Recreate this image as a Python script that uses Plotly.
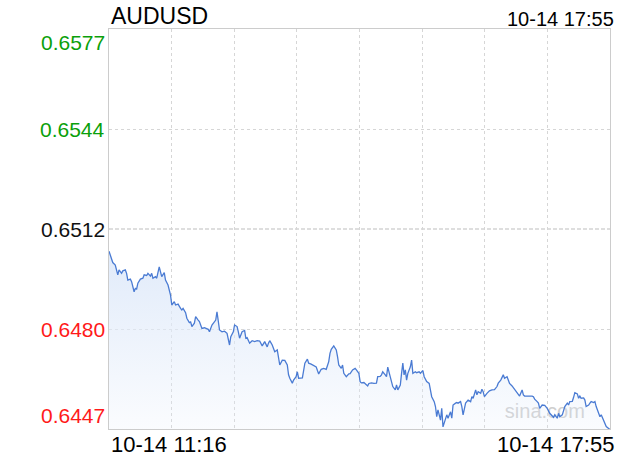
import numpy as np
import plotly.graph_objects as go

SYMBOL = "AUDUSD"
DATE_LABEL = "10-14"
START_TIME = "11:16"
END_TIME = "17:55"
PREV_CLOSE = 0.6512
Y_MIN = 0.6447
Y_MAX = 0.6577
Y_TICK_LABELS = ["0.6577", "0.6544", "0.6512", "0.6480", "0.6447"]
SESSION_MINUTES = 399  # 11:16 -> 17:55

# minutes elapsed since 11:16
minutes = [
    0, 2, 3, 5, 6, 7, 8, 10, 11, 13,
    14, 15, 17, 18, 20, 21, 22, 23, 25, 27,
    28, 30, 31, 33, 34, 35, 37, 38, 40, 41,
    42, 44, 45, 47, 48, 49, 50, 52, 53, 55,
    57, 58, 59, 61, 62, 64, 65, 66, 68, 69,
    71, 72, 74, 76, 79, 80, 82, 83, 85, 86,
    88, 90, 92, 94, 96, 97, 99, 100, 102, 103,
    104, 106, 108, 109, 110, 112, 114, 116, 118, 120,
    122, 124, 126, 127, 128, 130, 132, 134, 135, 136,
    138, 140, 142, 143, 144, 146, 147, 149, 150, 151,
    154, 155, 156, 158, 159, 161, 163, 165, 166, 167,
    169, 171, 173, 175, 176, 177, 179, 181, 182, 183,
    185, 186, 187, 189, 191, 192, 194, 196, 197, 199,
    200, 201, 203, 204, 206, 207, 209, 211, 213, 214,
    216, 217, 218, 220, 221, 222, 224, 225, 226, 228,
    229, 230, 232, 233, 234, 235, 236, 237, 238, 240,
    241, 242, 244, 245, 247, 248, 250, 251, 253, 255,
    256, 257, 259, 260, 261, 262, 264, 265, 266, 268,
    269, 270, 272, 273, 274, 276, 277, 278, 280, 281,
    282, 284, 285, 286, 288, 289, 290, 292, 293, 294,
    296, 297, 298, 299, 301, 303, 305, 307, 309, 310,
    312, 314, 315, 317, 318, 319, 321, 323, 325, 326,
    327, 329, 330, 331, 334, 337, 338, 339, 341, 342,
    343, 345, 347, 349, 351, 353, 354, 355, 357, 358,
    359, 361, 362, 363, 365, 366, 367, 369, 370, 371,
    373, 374, 375, 376, 378, 379, 380, 382, 383, 384,
    386, 387, 388, 390, 391, 392, 394, 395, 396, 399,
]

prices = [
    0.65048, 0.65026, 0.65011, 0.65003, 0.64981, 0.64971, 0.64987, 0.64976, 0.64984, 0.64987,
    0.64976, 0.64954, 0.64957, 0.64949, 0.64916, 0.64927, 0.64925, 0.64944, 0.64957, 0.64960,
    0.64971, 0.64969, 0.64976, 0.64967, 0.64976, 0.64960, 0.64965, 0.64960, 0.64997, 0.64981,
    0.64965, 0.64978, 0.64954, 0.64938, 0.64922, 0.64905, 0.64873, 0.64884, 0.64873, 0.64876,
    0.64862, 0.64857, 0.64862, 0.64848, 0.64830, 0.64816, 0.64818, 0.64803, 0.64814, 0.64835,
    0.64824, 0.64819, 0.64797, 0.64799, 0.64794, 0.64786, 0.64808, 0.64814, 0.64824, 0.64851,
    0.64792, 0.64786, 0.64788, 0.64781, 0.64743, 0.64770, 0.64786, 0.64808, 0.64803, 0.64786,
    0.64765, 0.64786, 0.64790, 0.64765, 0.64767, 0.64749, 0.64757, 0.64754, 0.64757, 0.64756,
    0.64740, 0.64754, 0.64737, 0.64749, 0.64757, 0.64743, 0.64721, 0.64727, 0.64697, 0.64678,
    0.64694, 0.64693, 0.64678, 0.64646, 0.64635, 0.64619, 0.64629, 0.64640, 0.64656, 0.64635,
    0.64636, 0.64664, 0.64684, 0.64697, 0.64684, 0.64681, 0.64675, 0.64672, 0.64660, 0.64649,
    0.64664, 0.64667, 0.64664, 0.64689, 0.64716, 0.64729, 0.64740, 0.64727, 0.64705, 0.64678,
    0.64667, 0.64678, 0.64651, 0.64640, 0.64649, 0.64650, 0.64662, 0.64667, 0.64662, 0.64651,
    0.64624, 0.64620, 0.64621, 0.64618, 0.64610, 0.64618, 0.64620, 0.64618, 0.64619, 0.64640,
    0.64641, 0.64646, 0.64656, 0.64646, 0.64640, 0.64671, 0.64635, 0.64624, 0.64608, 0.64597,
    0.64613, 0.64597, 0.64613, 0.64651, 0.64684, 0.64646, 0.64662, 0.64629, 0.64651, 0.64672,
    0.64694, 0.64651, 0.64656, 0.64653, 0.64656, 0.64651, 0.64660, 0.64640, 0.64624, 0.64618,
    0.64597, 0.64575, 0.64559, 0.64543, 0.64510, 0.64532, 0.64499, 0.64537, 0.64477, 0.64499,
    0.64516, 0.64505, 0.64526, 0.64505, 0.64548, 0.64554, 0.64556, 0.64554, 0.64559, 0.64543,
    0.64516, 0.64554, 0.64559, 0.64564, 0.64559, 0.64575, 0.64570, 0.64597, 0.64581, 0.64591,
    0.64586, 0.64599, 0.64591, 0.64575, 0.64586, 0.64594, 0.64597, 0.64598, 0.64608, 0.64619,
    0.64629, 0.64646, 0.64635, 0.64640, 0.64629, 0.64618, 0.64610, 0.64599, 0.64591, 0.64586,
    0.64577, 0.64597, 0.64581, 0.64577, 0.64578, 0.64577, 0.64575, 0.64567, 0.64559, 0.64554,
    0.64537, 0.64548, 0.64547, 0.64537, 0.64521, 0.64512, 0.64508, 0.64516, 0.64505, 0.64521,
    0.64510, 0.64516, 0.64532, 0.64543, 0.64554, 0.64548, 0.64559, 0.64560, 0.64573, 0.64588,
    0.64584, 0.64570, 0.64577, 0.64570, 0.64571, 0.64564, 0.64543, 0.64548, 0.64554, 0.64559,
    0.64556, 0.64559, 0.64543, 0.64521, 0.64510, 0.64516, 0.64499, 0.64489, 0.64478, 0.64468,
]

FONT = "Liberation Sans, Arial, Helvetica, sans-serif"
LINE_COLOR = "#4a7bd3"
GREEN = "#0aa00a"
RED = "#ff1a1a"
GRID = "#d6d6d6"

fig = go.Figure()

# watermark (under the line)
x_span = SESSION_MINUTES
fig.add_trace(go.Scatter(
    x=[0.87 * x_span], y=[Y_MIN + 0.04 * (Y_MAX - Y_MIN)],
    mode="text", text=["sina.com"],
    textfont=dict(family=FONT, size=20, color="#cfcfcf"),
    hoverinfo="skip", showlegend=False,
))

# baseline for gradient fill
fig.add_trace(go.Scatter(
    x=minutes, y=[Y_MIN] * len(minutes), mode="lines",
    line=dict(width=0, color="rgba(0,0,0,0)"),
    hoverinfo="skip", showlegend=False,
))
fig.add_trace(go.Scatter(
    x=minutes, y=prices, mode="lines",
    line=dict(color=LINE_COLOR, width=1.3),
    fill="tonexty",
    fillgradient=dict(
        type="vertical",
        colorscale=[[0, "rgba(225,235,250,0.15)"], [1, "rgba(225,235,250,1)"]],
    ),
    showlegend=False,
))

# previous-close reference line
fig.add_shape(
    type="line", xref="paper", x0=0, x1=1, yref="y", y0=PREV_CLOSE, y1=PREV_CLOSE,
    line=dict(color="#bdbdbd", width=1, dash="4px,2px"), layer="below",
)

fig.update_xaxes(
    range=[0, SESSION_MINUTES],
    tickvals=list(np.linspace(0, SESSION_MINUTES, 9)),
    showticklabels=False, ticks="",
    showgrid=True, gridcolor=GRID, griddash="dot", gridwidth=1,
    showline=True, linecolor="#cccccc", linewidth=1, mirror=True,
    zeroline=False,
)
fig.update_yaxes(
    range=[Y_MIN, Y_MAX],
    tickvals=[Y_MIN + (Y_MAX - Y_MIN) * k / 4 for k in (1, 3)],
    showticklabels=False, ticks="",
    showgrid=True, gridcolor=GRID, griddash="dot", gridwidth=1,
    showline=True, linecolor="#cccccc", linewidth=1, mirror=True,
    zeroline=False,
)

# y labels
label_colors = [GREEN, GREEN, "#111111", RED, RED]
label_pos = [(1.0, "top"), (0.75, "middle"), (0.5, "middle"), (0.25, "middle"), (0.0, "bottom")]
for txt, col, (py, anchor) in zip(Y_TICK_LABELS, label_colors, label_pos):
    fig.add_annotation(
        xref="paper", yref="paper", x=0, y=py, xanchor="right", yanchor=anchor,
        xshift=-2, text=txt, showarrow=False,
        font=dict(family=FONT, size=21, color=col),
    )

# title and timestamps
fig.add_annotation(xref="paper", yref="paper", x=0, y=1, xanchor="left", yanchor="bottom",
                   yshift=-2, text=SYMBOL, showarrow=False,
                   font=dict(family=FONT, size=23, color="#000000"))
fig.add_annotation(xref="paper", yref="paper", x=1, y=1, xanchor="right", yanchor="bottom",
                   xshift=6, yshift=-3, text=f"{DATE_LABEL} {END_TIME}", showarrow=False,
                   font=dict(family=FONT, size=20, color="#000000"))
fig.add_annotation(xref="paper", yref="paper", x=0, y=0, xanchor="left", yanchor="top",
                   yshift=-1, text=f"{DATE_LABEL} {START_TIME}", showarrow=False,
                   font=dict(family=FONT, size=22, color="#000000"))
fig.add_annotation(xref="paper", yref="paper", x=1, y=0, xanchor="right", yanchor="top",
                   xshift=6, yshift=-1, text=f"{DATE_LABEL} {END_TIME}", showarrow=False,
                   font=dict(family=FONT, size=22, color="#000000"))

fig.update_layout(
    width=620, height=460,
    margin=dict(l=109, r=10, t=29, b=31),
    paper_bgcolor="white", plot_bgcolor="white",
    showlegend=False,
    font=dict(family=FONT),
)

fig.write_html("out.html", config={"displayModeBar": False},
               post_script="document.body.style.margin='0';")
